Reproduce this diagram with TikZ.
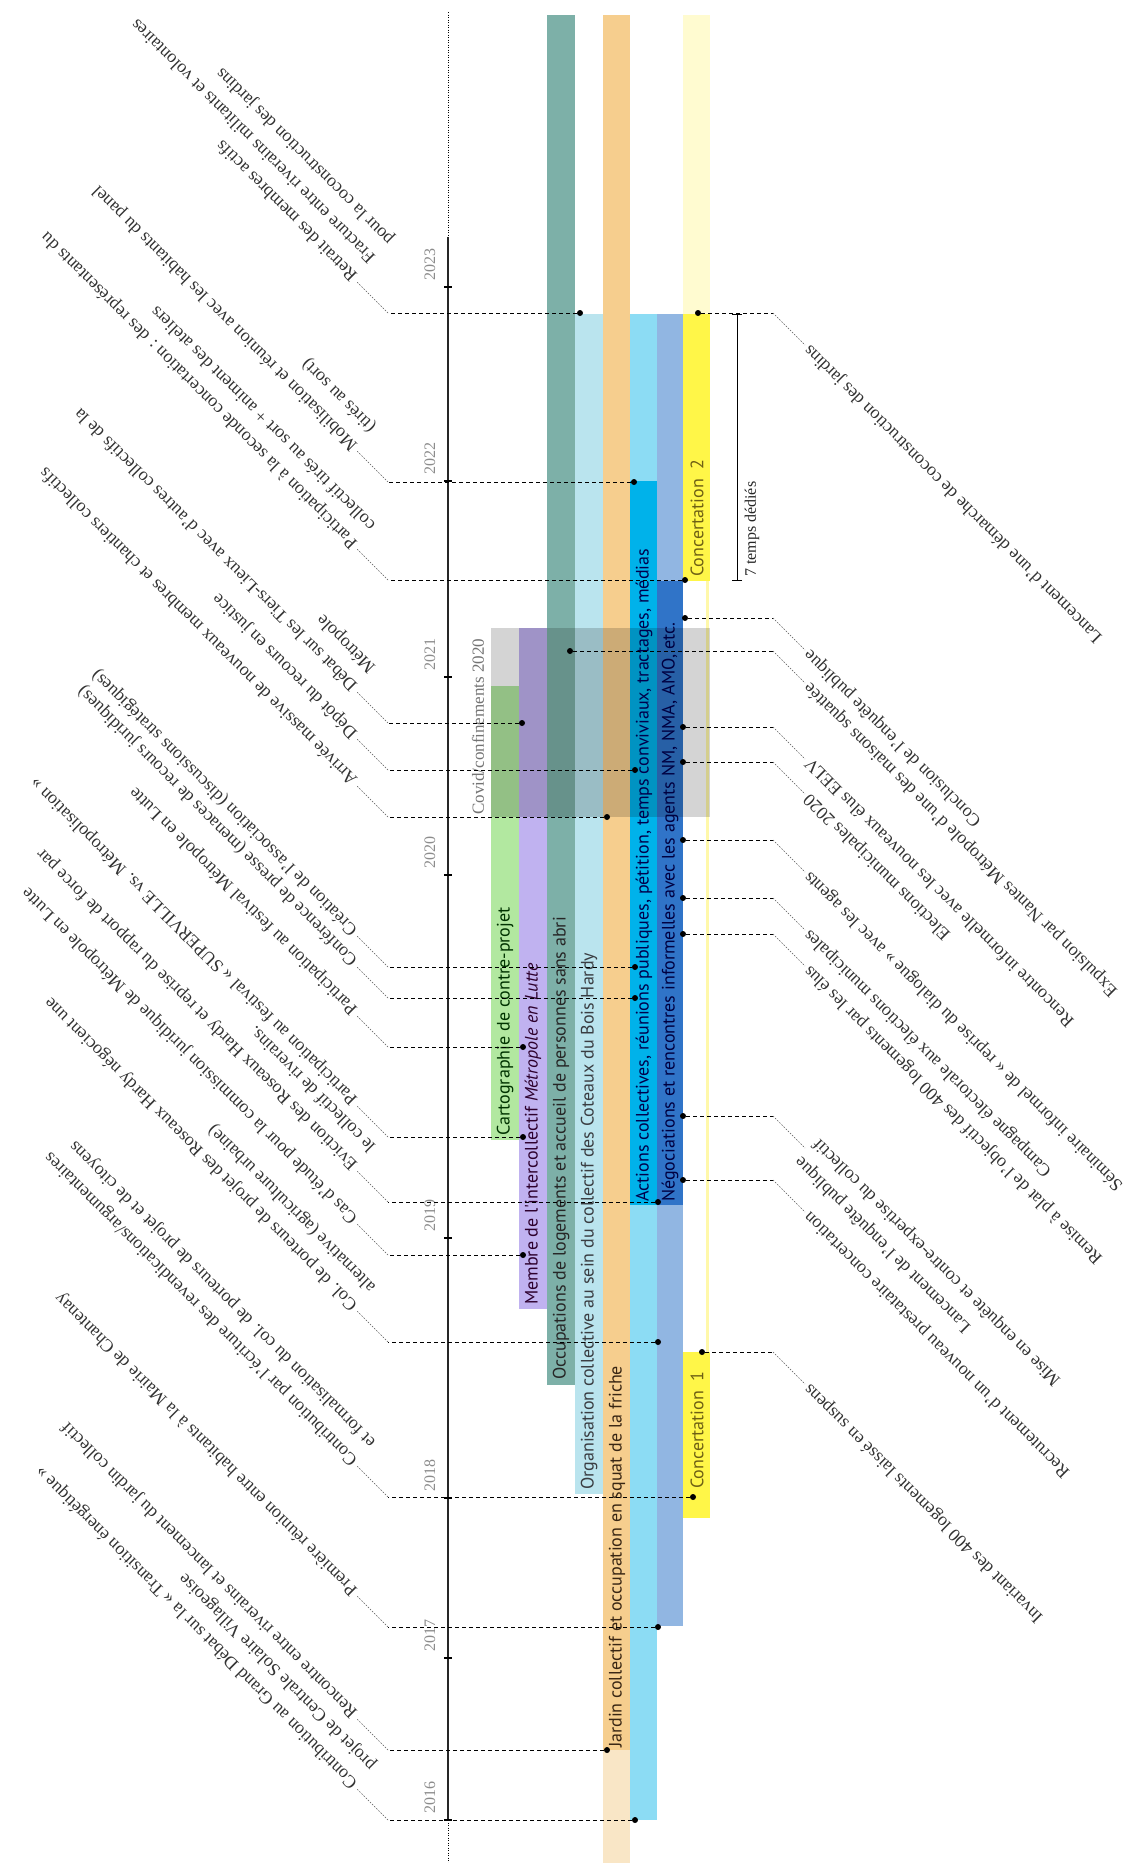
\documentclass[tikz,border=0pt]{standalone}
\usepackage{fontspec}
\setmainfont{Liberation Serif}
\newfontfamily\barsans{PT Sans}
\usepackage{tikz}
\usetikzlibrary{arrows.meta}

\definecolor{cartogreen}{RGB}{178,232,160}
\definecolor{interpurple}{RGB}{192,178,240}
\definecolor{occteal}{RGB}{125,176,168}
\definecolor{orgblue}{RGB}{186,228,238}
\definecolor{jardinorange}{RGB}{246,206,142}
\definecolor{jardinpale}{RGB}{249,230,198}
\definecolor{actpale}{RGB}{140,220,244}
\definecolor{actcyan}{RGB}{0,178,234}
\definecolor{negpale}{RGB}{145,182,226}
\definecolor{negdark}{RGB}{48,116,200}
\definecolor{concyellow}{RGB}{255,246,72}
\definecolor{concpale}{RGB}{255,251,208}
\definecolor{concline}{RGB}{255,248,170}
\definecolor{concink}{RGB}{110,96,20}

\begin{document}
\begin{tikzpicture}[
        x=1pt, y=-1pt,
        dot/.style={circle, fill=black, inner sep=0pt, minimum size=6pt},
        tick/.style={rectangle, fill=black, inner sep=0pt, minimum width=8pt, minimum height=2pt},
        hlead/.style={line width=0.9pt, dash pattern=on 4pt off 3pt},
        dlead/.style={line width=0.6pt, black!65, dash pattern=on 1.5pt off 1.5pt},
        ltext/.style={shift={(-5,5)}, rotate=135, xshift=4pt, anchor=north west, align=left, inner sep=0pt, text=black!80, font=\fontsize{18}{25.5}\selectfont},
        rtext/.style={rotate=135, anchor=east, align=right, inner sep=3pt, text=black!80, font=\fontsize{18}{25.5}\selectfont},
        barlabel/.style={rotate=90, anchor=west, inner sep=0pt, font=\barsans\fontsize{18}{20}\selectfont},
        year/.style={rotate=90, anchor=west, inner sep=0pt, text=black!45, font=\fontsize{16}{18}\selectfont}
    ]
    % Frame
    \fill[white] (0,0) rectangle (1130,1863);
    \useasboundingbox (0,0) rectangle (1130,1863);

    % Bars
    \fill[cartogreen] (491,686) rectangle (519,1140);
    \fill[interpurple] (519,628) rectangle (547,1309);
    \fill[occteal] (547,15) rectangle (575,1385);
    \fill[orgblue] (575,314) rectangle (603,1494);
    \fill[jardinorange] (603,15) rectangle (630,1750);
    \fill[jardinpale] (603,1750) rectangle (630,1863);
    \fill[actpale] (630,314) rectangle (657,1820);
    \fill[actcyan] (630,481) rectangle (657,1205);
    \fill[negpale] (657,314) rectangle (683,1626);
    \fill[negdark] (657,581) rectangle (683,1205);
    \fill[concpale] (683,15) rectangle (710,314);
    \fill[concyellow] (683,314) rectangle (710,581);
    \fill[concline] (706,581) rectangle (709,1352);
    \fill[concyellow] (683,1352) rectangle (710,1518);

    % Covid
    \fill[black, fill opacity=0.17] (491,628) rectangle (710,817);
    \node[year, text=black!55, font=\fontsize{17}{20}\selectfont] (covid) at (478,815) {Covid/confinements 2020};

    % Bar labels
    \node[barlabel, text=green!20!black] (carto) at (505,1136) {Cartographie de contre-projet};
    \node[barlabel, text=violet!35!black] (membre) at (533,1305) {Membre de l'intercollectif \textit{Métropole en Lutte}};
    \node[barlabel, text=black!85] (occup) at (561,1380) {Occupations de logements et accueil de personnes sans abri};
    \node[barlabel, text=cyan!15!black] (organ) at (589,1490) {Organisation collective au sein du collectif des Coteaux du Bois Hardy};
    \node[barlabel, text=brown!30!black] (jardin) at (617,1748) {Jardin collectif et occupation en squat de la friche};
    \node[barlabel, text=blue!30!black] (actions) at (644,1202) {Actions collectives, réunions publiques, pétition, temps conviviaux, tractages, médias};
    \node[barlabel, text=blue!25!black] (nego) at (670,1202) {Négociations et rencontres informelles avec les agents NM, NMA, AMO, etc.};
    \node[barlabel, text=concink] (conc2) at (697,577) {Concertation\enspace 2};
    \node[barlabel, text=concink] (conc1) at (697,1489) {Concertation\enspace 1};

    % Axis
    \coordinate (axtop) at (448,12);
    \coordinate (axstart) at (448,237);
    \coordinate (axend) at (448,1820);
    \coordinate (axbot) at (448,1863);
    \draw[line width=0.8pt, dash pattern=on 1pt off 1.5pt] (axtop) -- (axstart);
    \draw[line width=1.2pt, black!85] (axstart) -- (axend);
    \draw[line width=0.8pt, dash pattern=on 1pt off 1.5pt] (axend) -- (axbot);

    % Years
    \node[tick] (t2016) at (448,1820) {}; \node[year] (y2016) at (430,1814) {2016};
    \node[tick] (t2017) at (448,1658) {}; \node[year] (y2017) at (430,1652) {2017};
    \node[tick] (t2018) at (448,1498) {}; \node[year] (y2018) at (430,1492) {2018};
    \node[tick] (t2019) at (448,1238) {}; \node[year] (y2019) at (430,1232) {2019};
    \node[tick] (t2020) at (448,875) {};  \node[year] (y2020) at (430,869) {2020};
    \node[tick] (t2021) at (448,677) {};  \node[year] (y2021) at (430,671) {2021};
    \node[tick] (t2022) at (448,481) {};  \node[year] (y2022) at (430,475) {2022};
    \node[tick] (t2023) at (448,287) {};  \node[year] (y2023) at (430,281) {2023};

    % Left events
    \node[dot] (a1) at (580,313) {}; \coordinate (a1k) at (388,313); \coordinate (a1e) at (357,282);
    \draw[hlead] (a1) -- (a1k); \draw[dlead] (a1k) -- (a1e);
    \node[ltext] (a1t) at (a1e) {Retrait des membres actifs\\Fracture entre riverains militants et volontaires\\pour la coconstruction des jardins};

    \node[dot] (a2) at (634,482) {}; \coordinate (a2k) at (388,482); \coordinate (a2e) at (357,451);
    \draw[hlead] (a2) -- (a2k); \draw[dlead] (a2k) -- (a2e);
    \node[ltext] (a2t) at (a2e) {Mobilisation et réunion avec les habitants du panel\\(tirés au sort)};

    \node[dot] (a3) at (685,580) {}; \coordinate (a3k) at (388,580); \coordinate (a3e) at (357,549);
    \draw[hlead] (a3) -- (a3k); \draw[dlead] (a3k) -- (a3e);
    \node[ltext] (a3t) at (a3e) {Participation à la seconde concertation : des représentants du\\collectif tirés au sort + animent des ateliers};

    \node[dot] (a4) at (522,723) {}; \coordinate (a4k) at (388,723); \coordinate (a4e) at (357,692);
    \draw[hlead] (a4) -- (a4k); \draw[dlead] (a4k) -- (a4e);
    \node[ltext] (a4t) at (a4e) {Débat sur les Tiers-Lieux avec d'autres collectifs de la\\Métropole};

    \node[dot] (a5) at (635,770) {}; \coordinate (a5k) at (388,770); \coordinate (a5e) at (357,739);
    \draw[hlead] (a5) -- (a5k); \draw[dlead] (a5k) -- (a5e);
    \node[ltext] (a5t) at (a5e) {Dépôt du recours en justice};

    \node[dot] (a6) at (607,817) {}; \coordinate (a6k) at (388,817); \coordinate (a6e) at (357,786);
    \draw[hlead] (a6) -- (a6k); \draw[dlead] (a6k) -- (a6e);
    \node[ltext] (a6t) at (a6e) {Arrivée massive de nouveaux membres et chantiers collectifs};

    \node[dot] (a7) at (635,967) {}; \coordinate (a7k) at (388,967); \coordinate (a7e) at (357,936);
    \draw[hlead] (a7) -- (a7k); \draw[dlead] (a7k) -- (a7e);
    \node[ltext] (a7t) at (a7e) {Création de l'association (discussions stratégiques)};

    \node[dot] (a8) at (635,998) {}; \coordinate (a8k) at (388,998); \coordinate (a8e) at (357,967);
    \draw[hlead] (a8) -- (a8k); \draw[dlead] (a8k) -- (a8e);
    \node[ltext] (a8t) at (a8e) {Conférence de presse (menaces de recours juridiques)};

    \node[dot] (a9) at (523,1047) {}; \coordinate (a9k) at (388,1047); \coordinate (a9e) at (357,1016);
    \draw[hlead] (a9) -- (a9k); \draw[dlead] (a9k) -- (a9e);
    \node[ltext] (a9t) at (a9e) {Participation au festival Métropole en Lutte};

    \node[dot] (a10) at (523,1137) {}; \coordinate (a10k) at (388,1137); \coordinate (a10e) at (357,1106);
    \draw[hlead] (a10) -- (a10k); \draw[dlead] (a10k) -- (a10e);
    \node[ltext] (a10t) at (a10e) {Participation au festival « SUPERVILLE vs. Métropolisation »};

    \node[dot] (a11) at (658,1202) {}; \coordinate (a11k) at (388,1202); \coordinate (a11e) at (357,1171);
    \draw[hlead] (a11) -- (a11k); \draw[dlead] (a11k) -- (a11e);
    \node[ltext] (a11t) at (a11e) {Eviction des Roseaux Hardy et reprise du rapport de force par\\le collectif de riverains.};

    \node[dot] (a12) at (523,1255) {}; \coordinate (a12k) at (388,1255); \coordinate (a12e) at (357,1224);
    \draw[hlead] (a12) -- (a12k); \draw[dlead] (a12k) -- (a12e);
    \node[ltext] (a12t) at (a12e) {Cas d'étude pour la commission juridique de Métropole en Lutte};

    \node[dot] (a13) at (658,1342) {}; \coordinate (a13k) at (388,1342); \coordinate (a13e) at (357,1311);
    \draw[hlead] (a13) -- (a13k); \draw[dlead] (a13k) -- (a13e);
    \node[ltext] (a13t) at (a13e) {Col. de porteurs de projet des Roseaux Hardy négocient une\\alternative (agriculture urbaine)};

    \node[dot] (a14) at (693,1497) {}; \coordinate (a14k) at (388,1497); \coordinate (a14e) at (357,1466);
    \draw[hlead] (a14) -- (a14k); \draw[dlead] (a14k) -- (a14e);
    \node[ltext] (a14t) at (a14e) {Contribution par l'écriture des revendications/argumentaires\\et formalisation du col. de porteurs de projet et de citoyens};

    \node[dot] (a15) at (658,1627) {}; \coordinate (a15k) at (388,1627); \coordinate (a15e) at (357,1596);
    \draw[hlead] (a15) -- (a15k); \draw[dlead] (a15k) -- (a15e);
    \node[ltext] (a15t) at (a15e) {Première réunion entre habitants à la Mairie de Chantenay};

    \node[dot] (a16) at (607,1750) {}; \coordinate (a16k) at (388,1750); \coordinate (a16e) at (357,1719);
    \draw[hlead] (a16) -- (a16k); \draw[dlead] (a16k) -- (a16e);
    \node[ltext] (a16t) at (a16e) {Rencontre entre riverains et lancement du jardin collectif};

    \node[dot] (a17) at (635,1820) {}; \coordinate (a17k) at (388,1820); \coordinate (a17e) at (357,1789);
    \draw[hlead] (a17) -- (a17k); \draw[dlead] (a17k) -- (a17e);
    \node[ltext] (a17t) at (a17e) {Contribution au Grand Débat sur la « Transition énergétique »\\projet de Centrale Solaire Villageoise};

    % Right events
    \node[dot] (b1) at (698,313) {}; \coordinate (b1k) at (773,313); \coordinate (b1e) at (805,345);
    \draw[hlead] (b1) -- (b1k); \draw[dlead] (b1k) -- (b1e);
    \node[rtext] (b1t) at (b1e) {Lancement d'une démarche de coconstruction des jardins};

    \node[dot] (b2) at (685,618) {}; \coordinate (b2k) at (773,618); \coordinate (b2e) at (805,650);
    \draw[hlead] (b2) -- (b2k); \draw[dlead] (b2k) -- (b2e);
    \node[rtext] (b2t) at (b2e) {Conclusion de l'enquête publique};

    \node[dot] (b3) at (570,651) {}; \coordinate (b3k) at (773,651); \coordinate (b3e) at (805,683);
    \draw[hlead] (b3) -- (b3k); \draw[dlead] (b3k) -- (b3e);
    \node[rtext] (b3t) at (b3e) {Expulsion par Nantes Métropole d'une des maisons squattée};

    \node[dot] (b4) at (683,727) {}; \coordinate (b4k) at (773,727); \coordinate (b4e) at (805,759);
    \draw[hlead] (b4) -- (b4k); \draw[dlead] (b4k) -- (b4e);
    \node[rtext] (b4t) at (b4e) {Rencontre informelle avec les nouveaux élus EELV};

    \node[dot] (b5) at (683,762) {}; \coordinate (b5k) at (773,762); \coordinate (b5e) at (805,794);
    \draw[hlead] (b5) -- (b5k); \draw[dlead] (b5k) -- (b5e);
    \node[rtext] (b5t) at (b5e) {Elections municipales 2020};

    \node[dot] (b6) at (683,840) {}; \coordinate (b6k) at (773,840); \coordinate (b6e) at (805,872);
    \draw[hlead] (b6) -- (b6k); \draw[dlead] (b6k) -- (b6e);
    \node[rtext] (b6t) at (b6e) {Séminaire informel de « reprise du dialogue » avec les agents};

    \node[dot] (b7) at (683,898) {}; \coordinate (b7k) at (773,898); \coordinate (b7e) at (805,930);
    \draw[hlead] (b7) -- (b7k); \draw[dlead] (b7k) -- (b7e);
    \node[rtext] (b7t) at (b7e) {Campagne électorale aux élections municipales};

    \node[dot] (b8) at (683,934) {}; \coordinate (b8k) at (773,934); \coordinate (b8e) at (805,966);
    \draw[hlead] (b8) -- (b8k); \draw[dlead] (b8k) -- (b8e);
    \node[rtext] (b8t) at (b8e) {Remise à plat de l'objectif des 400 logements par les élus};

    \node[dot] (b9) at (683,1116) {}; \coordinate (b9k) at (773,1116); \coordinate (b9e) at (805,1148);
    \draw[hlead] (b9) -- (b9k); \draw[dlead] (b9k) -- (b9e);
    \node[rtext] (b9t) at (b9e) {Lancement de l'enquête publique\\Mise en enquête et contre-expertise du collectif};

    \node[dot] (b10) at (683,1180) {}; \coordinate (b10k) at (773,1180); \coordinate (b10e) at (805,1212);
    \draw[hlead] (b10) -- (b10k); \draw[dlead] (b10k) -- (b10e);
    \node[rtext] (b10t) at (b10e) {Recrutement d'un nouveau prestataire concertation};

    \node[dot] (b11) at (702,1352) {}; \coordinate (b11k) at (773,1352); \coordinate (b11e) at (805,1384);
    \draw[hlead] (b11) -- (b11k); \draw[dlead] (b11k) -- (b11e);
    \node[rtext] (b11t) at (b11e) {Invariant des 400 logements laissé en suspens};

    % Concertation 2 span
    \coordinate (span1) at (737,314);
    \coordinate (span2) at (737,581);
    \draw[{Bar[width=10pt]}-{Bar[width=10pt]}, line width=0.8pt] (span1) -- (span2);
    \node[year, text=black!85] (spanlabel) at (752,577) {7 temps dédiés};
    \end{tikzpicture}
\end{document}
